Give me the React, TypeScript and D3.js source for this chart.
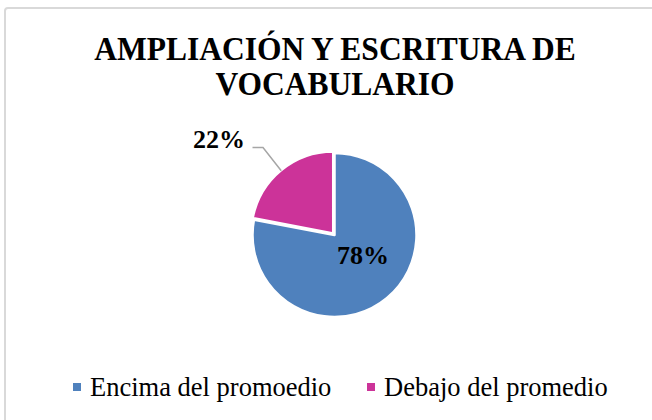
import React from "react";
import * as d3 from "d3";

const categories = ["Encima del promoedio", "Debajo del promedio"];
const values = [78, 22];
const labels = ["78%", "22%"];
const colors = ["#4f81bd", "#cc3399"];
const titleLines = ["AMPLIACIÓN Y ESCRITURA DE", "VOCABULARIO"];

const FONT = "Liberation Serif";

export default function App() {
  const W = 652, H = 420;
  const cx = 334.5, cy = 235, r = 82;
  const pie = d3.pie<number>().sort(null).value((d) => d)(values);
  const arc = d3.arc<d3.PieArcDatum<number>>().innerRadius(0).outerRadius(r);
  const pinkMid = (pie[1].startAngle + pie[1].endAngle) / 2;
  const pinkEdge = [Math.sin(pinkMid) * r, -Math.cos(pinkMid) * r];
  const explode = 2;
  return (
    <div style={{ position: "fixed", left: 0, top: 0, width: W, height: H, background: "#fff" }}>
      <svg width={W} height={H}>
        <rect x={5} y={8} width={W + 10} height={H + 10} rx={3} fill="#fff" stroke="#d9d9d9" strokeWidth={2} />
        <g transform="translate(335,0) scale(0.955,1)">
          {titleLines.map((t, i) => (
            <text key={i} x={0} y={60 + i * 35} textAnchor="middle" fontFamily={FONT} fontWeight="bold" fontSize={33}>
              {t}
            </text>
          ))}
        </g>
        <g transform={`translate(${cx},${cy})`}>
          {pie.map((p, i) => {
            const mid = (p.startAngle + p.endAngle) / 2;
            const dx = i === 1 ? Math.sin(mid) * explode : 0;
            const dy = i === 1 ? -Math.cos(mid) * explode : 0;
            return (
              <path key={i} d={arc(p) || ""} fill={colors[i]} stroke="#fff" strokeWidth={2.5} strokeLinejoin="round" transform={`translate(${dx},${dy})`} />
            );
          })}
          <text x={28.5} y={29} textAnchor="middle" fontFamily={FONT} fontWeight="bold" fontSize={26}>
            {labels[0]}
          </text>
          <polyline
            points={`${pinkEdge[0] - 1},${pinkEdge[1] - 1} ${-71.5},${-87.5} ${-82},${-87.5}`}
            fill="none"
            stroke="#a6a6a6"
            strokeWidth={1.5}
          />
          <text x={-89.5} y={-87} textAnchor="end" fontFamily={FONT} fontWeight="bold" fontSize={26}>
            {labels[1]}
          </text>
        </g>
        {categories.map((c, i) => {
          const x0 = [73, 367][i];
          return (
            <g key={i}>
              <rect x={x0} y={383} width={8} height={8} fill={colors[i]} />
              <text x={x0 + 17} y={395.5} fontFamily={FONT} fontSize={26.5}>
                {c}
              </text>
            </g>
          );
        })}
      </svg>
    </div>
  );
}
